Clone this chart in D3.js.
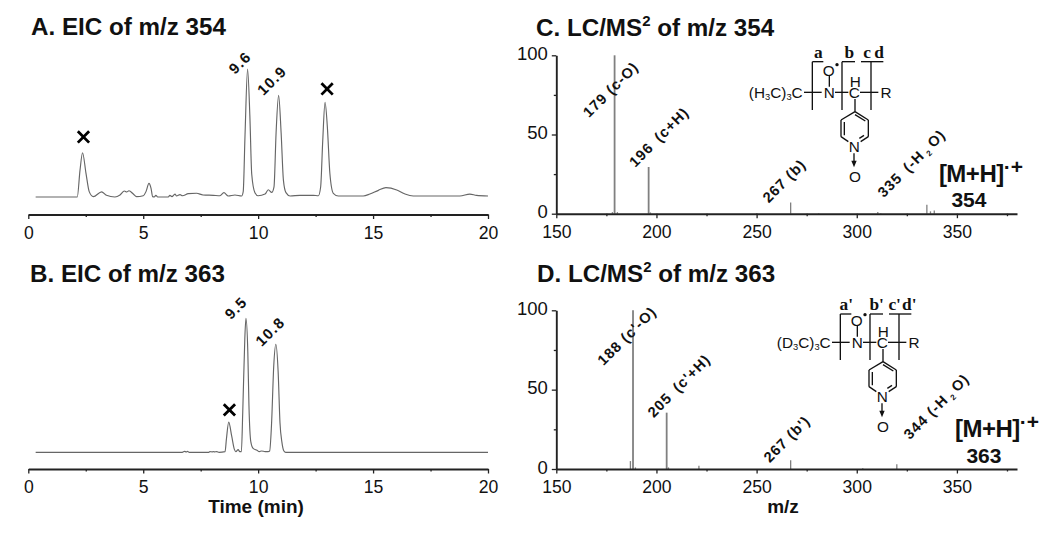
<!DOCTYPE html>
<html><head><meta charset="utf-8">
<script src="https://cdn.jsdelivr.net/npm/d3@7"></script>
<style>
html,body{margin:0;padding:0;background:#fff}
svg{display:block}
text{font-family:"Liberation Sans",Arial,sans-serif;fill:#111}
</style></head><body><div id="c"></div>
<script>
// Panel A: EIC of m/z 354
const timeA=[0.32,2.13,2.25,2.36,2.51,2.65,2.83,3.19,3.4,3.77,3.99,4.18,4.28,4.38,4.57,4.71,5,5.12,5.25,5.34,5.41,5.48,5.55,5.63,6.09,6.16,6.25,6.38,6.45,6.6,6.71,6.96,7.32,7.6,8.05,8.34,8.51,8.7,8.99,9.28,9.35,9.43,9.54,9.64,9.72,9.86,10,10.3,10.44,10.59,10.69,10.78,10.89,11,11.1,11.21,11.39,11.82,12.4,12.62,12.72,12.81,12.91,13.01,13.12,13.27,13.49,14.57,14.86,15.23,15.56,16.03,16.39,16.75,18.78,19.21,19.5,20];
const intensityA=[0,0,21,34.6,18.5,4.2,0.3,4,1.3,0,1.6,4.7,3.9,4.9,2.3,0.3,1,4.2,10.7,6.8,0.3,0,1.3,0,0,1.3,0.3,2.3,0.8,1.8,1,2.6,2.9,1.6,1.3,1,3.4,0.8,1.6,0.8,4.2,49,100,63,18,3.4,1,2.3,5.7,3.6,8,50,79.4,50,13,3.4,0.8,1.3,1.3,1,8,44,74,55,18.5,2.9,0.8,0.8,2.3,5.2,7.3,5.5,2.3,0.8,0.8,2.3,1.3,0.8];
// Panel B: EIC of m/z 363
const timeB=[0.32,6.7,6.8,6.87,6.93,7,7.85,7.9,8,8.05,8.1,8.2,8.3,8.56,8.62,8.72,8.85,8.97,9.03,9.13,9.2,9.27,9.33,9.42,9.47,9.55,9.6,9.68,9.78,9.95,10.05,10.15,10.3,10.43,10.5,10.58,10.68,10.77,10.87,10.95,11.03,11.12,11.2,20];
const intensityB=[0,0,0.7,0.3,0.7,0,0,0.5,0.3,0.5,0.3,0.5,0,0.5,10,22.5,12,2,0.5,2,0.5,0.5,30,85,100,75,35,8,3,1.5,0.5,1,0.5,0.5,1,20,65,80.6,60,22,8,1,0,0];
// Panel C: MS2 of m/z 354
const mzC=[178,179.1,180.5,196.1,197,250,267,281,310.5,312,335,336.8,338.7];
const relC=[1,100,1,29.5,0.8,0.3,7,0.3,1,0.3,5.7,1.5,2];
// Panel D: MS2 of m/z 363
const mzD=[187,188.3,189.5,205.1,206,221.2,267,303,320];
const relD=[5,100,1,35.5,1,2,5.5,0.5,3];
// Tick labels and annotation text
const timeTicks=[0,5,10,15,20];
const mzTicks=[150,200,250,300,350];
const relTicks=[0,50,100];
const peaksA=[{t:9.54,v:100,label:"9.6"},{t:10.89,v:79.4,label:"10.9"}];
const peaksB=[{t:9.47,v:100,label:"9.5"},{t:10.77,v:80.6,label:"10.8"}];
const crossA=[[2.4,46.9],[13.0,84.4]];
const crossB=[[8.75,31.6]];
const fragC=[{mz:179.1,v:100,label:"179 (c-O)"},{mz:196.1,v:29.5,label:"196 (c+H)"},{mz:267,v:7,label:"267 (b)"},{mz:335,v:5.7,label:"335 (-H"}];
const fragD=[{mz:188.3,v:100,label:"188 (c'-O)"},{mz:205.1,v:35.5,label:"205 (c'+H)"},{mz:267,v:5.5,label:"267 (b')"},{mz:320,v:3,label:"344 (-H"}];

const svg=d3.select("#c").append("svg").attr("width",1050).attr("height",534);

function bottomAxis(scale,values,minors,y){
  const a=svg.append("g").attr("transform",`translate(0,${y})`);
  a.call(d3.axisBottom(scale).tickValues(values).tickFormat(d3.format("d")).tickSize(4.5).tickSizeOuter(0).tickPadding(4));
  a.append("g").call(d3.axisBottom(scale).tickValues(minors).tickFormat("").tickSize(2.5).tickSizeOuter(0)).select(".domain").remove();
  a.selectAll("path,line").attr("stroke","#222").attr("stroke-width",1.3);
  a.select(".domain").attr("stroke-width",1.9);
  a.selectAll("text").attr("font-size",17.6).attr("font-family","Liberation Sans").attr("fill","#111").attr("dy","0.9em");
}
function leftAxis(scale,x){
  const a=svg.append("g").attr("transform",`translate(${x},0)`);
  a.call(d3.axisLeft(scale).tickValues(relTicks).tickSize(4.5).tickSizeOuter(0).tickPadding(4));
  a.append("g").call(d3.axisLeft(scale).tickValues([25,75]).tickFormat("").tickSize(2.5).tickSizeOuter(0)).select(".domain").remove();
  a.selectAll("path,line").attr("stroke","#222").attr("stroke-width",1.3);
  a.select(".domain").attr("stroke-width",1.9);
  a.selectAll("text").attr("font-size",18.5).attr("font-family","Liberation Sans").attr("fill","#111").attr("dy","0.22em");
}
function title(x,y,main,sup,rest){
  const t=svg.append("text").attr("x",x).attr("y",y).attr("font-size",24.2).attr("font-weight","bold");
  t.append("tspan").text(main);
  if(sup){t.append("tspan").attr("font-size",15).attr("dy",-10).text(sup);
    t.append("tspan").attr("dy",10).text(rest);}
}
function eic(times,values,axisY,base,top,peaks,peakOffs,crosses){
  const x=d3.scaleLinear().domain([0,20]).range([28.3,488]);
  const y=d3.scaleLinear().domain([0,100]).range([base,top]);
  svg.append("path").attr("d",d3.line().curve(d3.curveMonotoneX).x(d=>x(d[0])).y(d=>y(d[1]))(d3.zip(times,values)))
    .attr("fill","none").attr("stroke","#666").attr("stroke-width",1.15);
  bottomAxis(x,timeTicks,[2.5,7.5,12.5,17.5],axisY);
  peaks.forEach((p,i)=>{
    svg.append("text").attr("transform",`translate(${x(p.t)+peakOffs[i][0]},${y(p.v)+peakOffs[i][1]}) rotate(-45)`)
      .attr("font-size",15).attr("font-weight","bold").attr("letter-spacing",1.2).text(p.label);
  });
  crosses.forEach(c=>{
    svg.append("path").attr("d",d3.symbol(d3.symbolTimes,85)())
      .attr("transform",`translate(${x(c[0])},${y(c[1])})`)
      .attr("fill","none").attr("stroke","#000").attr("stroke-width",2.8);
  });
}
function ms(mz,rel,y0,y100,frags,offs,ion){
  const x=d3.scaleLinear().domain([150,380]).range([556.3,1017]);
  const y=d3.scaleLinear().domain([0,100]).range([y0,y100]);
  svg.append("g").selectAll("line").data(d3.zip(mz,rel)).join("line")
    .attr("x1",d=>x(d[0])).attr("x2",d=>x(d[0])).attr("y1",y(0)).attr("y2",d=>y(d[1]))
    .attr("stroke","#808080").attr("stroke-width",d=>d[1]>20?1.8:1.3);
  bottomAxis(x,mzTicks,[175,225,275,325,375],y0);
  leftAxis(y,x(150));
  frags.forEach((f,i)=>{
    const o=offs[i];
    const t=svg.append("text").attr("transform",`translate(${x(f.mz)+o[0]},${y(f.v)+o[1]}) rotate(-45)`)
      .attr("font-size",14.6).attr("font-weight","bold").attr("letter-spacing",1).attr("word-spacing",o[2]);
    t.append("tspan").text(f.label);
    if(f.label.endsWith("-H")){
      t.append("tspan").attr("font-size",8).attr("dy",3).attr("dx",3).text("2");
      t.append("tspan").attr("dy",-3).attr("dx",3).text("O)");
    }
  });
  const t=svg.append("text").attr("x",x(ion.start)).attr("y",y0-32).attr("font-size",24).attr("font-weight","bold");
  t.append("tspan").attr("letter-spacing",-0.5).text("[M+H]");
  t.append("tspan").attr("dy",-8).attr("font-size",21).text("·+");
  svg.append("text").attr("x",x(ion.center)).attr("y",y0-6.5).attr("text-anchor","middle").attr("font-size",21).attr("font-weight","bold").text(ion.value);
}
function structure(ox,oy,group,labels,topY){
  const g=svg.append("g").attr("transform",`translate(${ox},${oy}) scale(${1/3})`);
  const seg=[
    [217,topY,217,240],[217,topY,250,topY],
    [306,topY,306,240],[306,topY,345,topY],
    [393,topY,393,240],[363,topY,430,topY],
    [192,187,245,187],[285,187,325,187],[360,187,415,187],
    [268,138,268,170],[345,207,345,245],
    [345,245,385,270],[385,270,385,320],[385,320,362,335],[325,335,303,320],[303,320,303,270],[303,270,345,245],
    [345,254,376,273],[313,276,313,316],[372,316,358,325],
    [342,370,342,395]
  ];
  g.selectAll("line").data(seg).join("line")
    .attr("x1",d=>d[0]).attr("y1",d=>d[1]).attr("x2",d=>d[2]).attr("y2",d=>d[3])
    .attr("stroke","#111").attr("stroke-width",4);
  g.append("path").attr("d","M334,392L350,392L342,412Z").attr("fill","#111");
  const atoms=[["O",266,137],["N",268,203],["C",343,203],["H",346,170],["R",438,203],["N",343,366],["O",345,456]];
  g.selectAll("text.a").data(atoms).join("text").attr("class","a")
    .attr("x",d=>d[1]).attr("y",d=>d[2]).attr("text-anchor","middle").attr("font-size",46).text(d=>d[0]);
  g.append("circle").attr("cx",291).attr("cy",104).attr("r",5).attr("fill","#111");
  const t=g.append("text").attr("x",188).attr("y",203).attr("text-anchor","end").attr("font-size",46);
  t.append("tspan").text("("+group);
  t.append("tspan").attr("font-size",28).attr("dy",8).text("3");
  t.append("tspan").attr("dy",-8).text("C)");
  t.append("tspan").attr("font-size",28).attr("dy",8).text("3");
  t.append("tspan").attr("dy",-8).text("C");
  labels.forEach(l=>{
    g.append("text").attr("x",l[1]).attr("y",topY-11).attr("text-anchor","middle")
      .attr("font-size",52).attr("font-weight","bold").style("font-family","Liberation Serif").text(l[0]);
  });
}

title(31,35,"A. EIC of m/z 354");
title(30,282,"B. EIC of m/z 363");
title(536,36,"C. LC/MS","2"," of m/z 354");
title(537,282,"D. LC/MS","2"," of m/z 363");

eic(timeA,intensityA,214.5,197,69,peaksA,[[-12.5,6],[-15,1]],crossA);
eic(timeB,intensityB,469,452.3,318.3,peaksB,[[-15,2],[-14,3]],crossB);

ms(mzC,relC,213.7,55.3,fragC,[[-25.6,63,0],[-13.5,1,3],[-22,1,0],[-43,-6.5,3]],{start:341,center:356,value:"354"});
ms(mzD,relD,469,310.3,fragD,[[-29.4,56,0],[-13,5.5,3],[-21,3,0],[13,-24,0]],{start:349,center:363.5,value:"363"});

structure(740,30,"H",[["a",235],["b",328],["c",381],["d",417]],95);
structure(768,280,"D",[["a'",235],["b'",326],["c'",380],["d'",424]],102);

svg.append("text").attr("x",256).attr("y",513).attr("text-anchor","middle").attr("font-size",19).attr("font-weight","bold").text("Time (min)");
svg.append("text").attr("x",783).attr("y",513).attr("text-anchor","middle").attr("font-size",19).attr("font-weight","bold").text("m/z");
</script></body></html>
